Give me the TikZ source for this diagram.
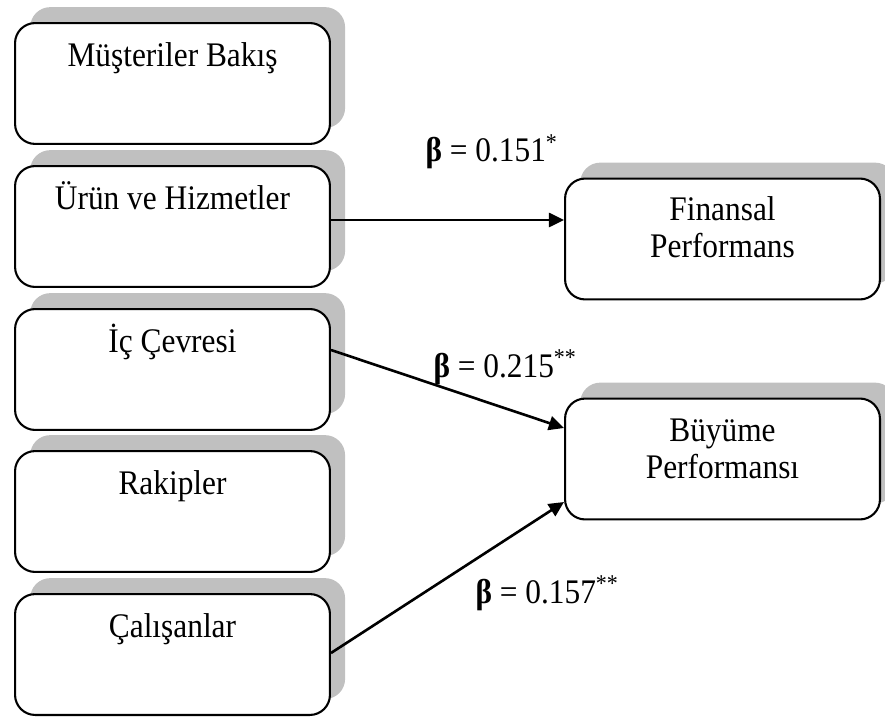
\documentclass[tikz,border=0pt]{standalone}
\usepackage{fontspec}
% slightly condensed so glyphs are a touch taller for their width
\setmainfont{Liberation Serif}[FakeStretch=0.91]
\usetikzlibrary{shadows,arrows.meta}
\definecolor{shadowgray}{RGB}{192,192,192}
\newcommand{\twolines}[2]{\begin{tabular}[t]{@{}c@{}}#1\\#2\end{tabular}}
\begin{document}
\begin{tikzpicture}[x=0.383pt,y=-0.383pt,
  font=\fontsize{13.2}{14.2}\selectfont,
  box/.style={draw=black, line width=0.8pt, rounded corners=7.7pt, fill=white,
    minimum width=120.6pt, minimum height=46.3pt, inner sep=0pt,
    drop shadow={shadow xshift=5.8pt, shadow yshift=6.1pt, fill=shadowgray, opacity=1}},
  boxtext/.style={anchor=base, inner sep=0pt},
  coef/.style={anchor=base west, inner sep=0pt},
  link/.style={draw=black, line width=1pt, -{Triangle[length=5.8pt, width=5.4pt]}}
]
\useasboundingbox (0,0) rectangle (885,718);

% left column: the five dimensions
\node[box] (b1) at (172.5,83.5) {};
\node[box] (b2) at (172.5,226.5) {};
\node[box] (b3) at (172.5,369.5) {};
\node[box] (b4) at (172.5,511.5) {};
\node[box] (b5) at (172.5,654.5) {};

% right column: performance outcomes
\node[box] (fin) at (722.5,239) {};
\node[box] (buy) at (722.5,459) {};

% box captions
\node[boxtext] (t1) at ([yshift=-17.2pt]b1.north) {Müşteriler Bakış};
\node[boxtext] (t2) at ([yshift=-17.2pt]b2.north) {Ürün ve Hizmetler};
\node[boxtext] (t3) at ([yshift=-17.2pt]b3.north) {İç Çevresi};
\node[boxtext] (t4) at ([yshift=-17.2pt]b4.north) {Rakipler};
\node[boxtext] (t5) at ([yshift=-17.2pt]b5.north) {Çalışanlar};
\node[boxtext] (tfin) at ([yshift=-16.3pt]fin.north) {\twolines{Finansal}{Performans}};
\node[boxtext] (tbuy) at ([yshift=-16.8pt]buy.north) {\twolines{Büyüme}{Performansı}};

% paths
\coordinate (s2) at (b2.east |- 0,220);
\coordinate (e2) at (fin.west |- 0,220);
\coordinate (s3) at (b3.east |- 0,350);
\coordinate (e3) at (buy.west |- 0,428);
\coordinate (s5) at (b5.east |- 0,653);
\coordinate (e5) at (buy.west |- 0,502);
\draw[link] (s2) -- (e2);
\draw[link] (s3) -- (e3);
\draw[link] (s5) -- (e5);

% path coefficients
\node[coef] (c1) at (425,162) {\textbf{β} = 0.151\textsuperscript{*}};
\node[coef] (c2) at (433,377) {\textbf{β} = 0.215\textsuperscript{**}};
\node[coef] (c3) at (475,603) {\textbf{β} = 0.157\textsuperscript{**}};
\end{tikzpicture}
\end{document}
